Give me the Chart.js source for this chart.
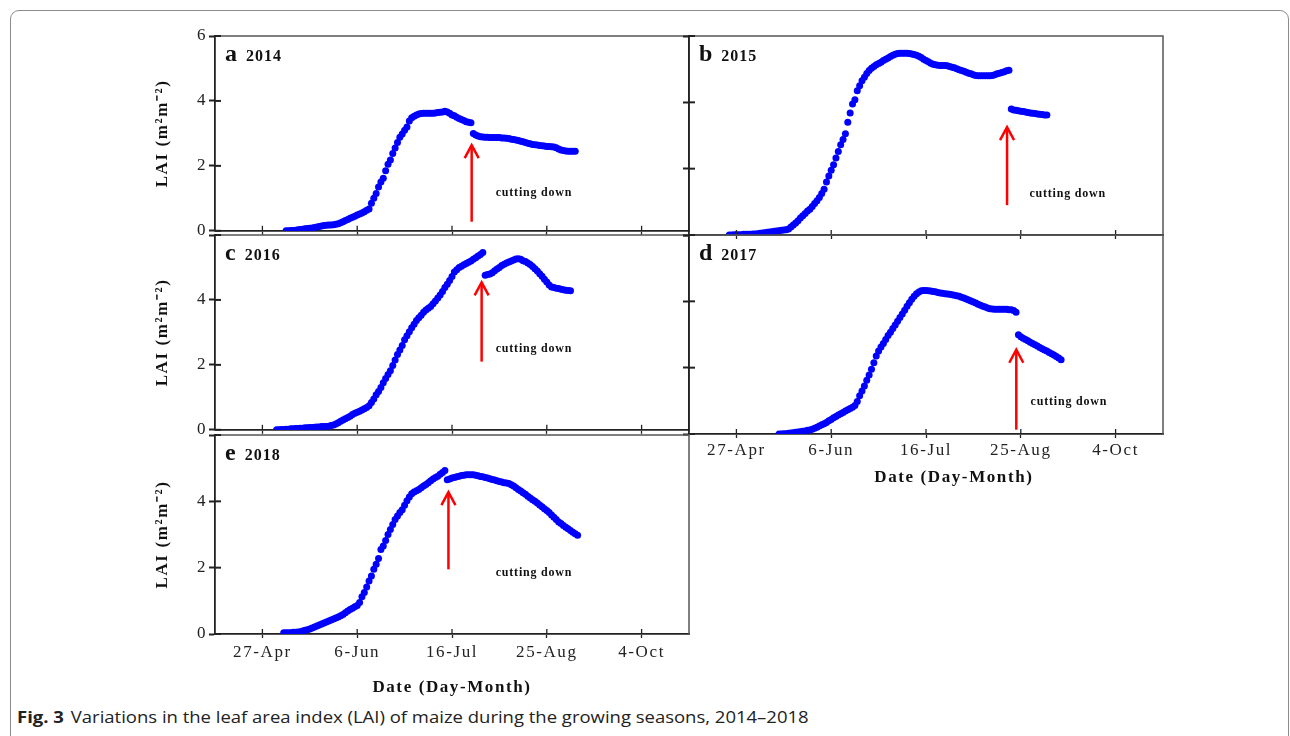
<!DOCTYPE html>
<html><head><meta charset="utf-8">
<script src="https://cdn.jsdelivr.net/npm/chart.js@4.4.1/dist/chart.umd.min.js"></script>
<style>
html,body{margin:0;padding:0;background:#fff;width:1290px;height:736px;overflow:hidden;}
#frame{position:absolute;left:10px;top:10px;width:1279px;height:745px;border:1.5px solid #8c8c8c;border-radius:9px;box-sizing:border-box;}
canvas{position:absolute;}
#caption{position:absolute;left:17px;top:706px;font-family:'Open Sans',sans-serif;font-size:16px;color:#222;white-space:nowrap;transform:scaleX(1.155);transform-origin:0 50%;}
#caption b{font-weight:700;margin-right:6px;}
</style></head><body>
<div id="frame"></div>
<canvas id="pa"></canvas>
<canvas id="pb"></canvas>
<canvas id="pc"></canvas>
<canvas id="pd"></canvas>
<canvas id="pe"></canvas>
<div id="caption"><b>Fig. 3</b>Variations in the leaf area index (LAI) of maize during the growing seasons, 2014–2018</div>
<script>
// ---- axis definitions ----
const xTickDays = [117, 157, 197, 237, 277];
const xTickLabels = ['27-Apr', '6-Jun', '16-Jul', '25-Aug', '4-Oct'];
const xMinDay = 97, xMaxDay = 297;
const yMinLAI = 0, yMaxLAI = 6, yStepLAI = 2;
const panelLetters = ['a', 'b', 'c', 'd', 'e'];
const panelYears = ['2014', '2015', '2016', '2017', '2018'];
const xTitle = 'Date (Day-Month)';
const yTitle = 'LAI (m\u00B2m\u207B\u00B2)';
const noteText = 'cutting down';

// ---- LAI series (daily values, day-of-year start) ----
const lai2014BeforeStart = 127;
const lai2014Before = [0.00,0.00,0.01,0.01,0.02,0.03,0.04,0.05,0.06,0.07,
 0.08,0.09,0.10,0.12,0.13,0.15,0.16,0.17,0.18,0.18,
 0.19,0.20,0.22,0.25,0.28,0.32,0.35,0.39,0.42,0.45,
 0.49,0.52,0.55,0.59,0.63,0.67,0.85,1.00,1.15,1.35,
 1.50,1.62,1.85,2.05,2.18,2.38,2.55,2.72,2.88,2.98,
 3.10,3.20,3.38,3.48,3.53,3.57,3.60,3.61,3.62,3.62,
 3.62,3.62,3.62,3.63,3.64,3.65,3.66,3.68,3.66,3.62,
 3.57,3.54,3.50,3.46,3.43,3.40,3.36,3.34,3.33];
const lai2014AfterStart = 206;
const lai2014After = [3.00,2.95,2.92,2.90,2.89,2.88,2.88,2.87,2.87,2.87,
 2.87,2.87,2.86,2.86,2.85,2.84,2.82,2.81,2.80,2.78,
 2.76,2.74,2.72,2.70,2.68,2.66,2.65,2.64,2.63,2.62,
 2.61,2.60,2.60,2.59,2.58,2.56,2.52,2.49,2.47,2.46,
 2.45,2.45,2.45,2.45];

const lai2015BeforeStart = 114;
const lai2015Before = [0.00,0.00,0.01,0.01,0.01,0.01,0.02,0.02,0.02,0.02,
 0.03,0.03,0.04,0.05,0.06,0.07,0.08,0.09,0.10,0.11,
 0.12,0.13,0.14,0.15,0.16,0.18,0.24,0.30,0.36,0.43,
 0.51,0.58,0.65,0.72,0.78,0.86,0.95,1.03,1.13,1.25,
 1.38,1.60,1.78,1.95,2.12,2.32,2.52,2.72,2.88,3.05,
 3.40,3.68,3.95,4.08,4.35,4.50,4.65,4.76,4.87,4.96,
 5.03,5.08,5.13,5.17,5.21,5.26,5.30,5.34,5.38,5.42,
 5.45,5.47,5.48,5.48,5.48,5.48,5.47,5.46,5.44,5.42,
 5.39,5.35,5.30,5.26,5.22,5.18,5.15,5.13,5.12,5.11,
 5.11,5.11,5.10,5.08,5.06,5.04,5.01,4.98,4.96,4.94,
 4.91,4.88,4.86,4.83,4.81,4.80,4.80,4.80,4.80,4.80,
 4.80,4.81,4.83,4.86,4.88,4.90,4.92,4.95,4.97];
const lai2015AfterStart = 233;
const lai2015After = [3.80,3.77,3.76,3.75,3.73,3.72,3.71,3.69,3.68,3.67,3.66,3.65,3.64,3.63,3.62,3.62];

const lai2016BeforeStart = 123;
const lai2016Before = [0.00,0.00,0.01,0.01,0.02,0.02,0.03,0.03,0.04,0.04,
 0.05,0.05,0.06,0.06,0.07,0.07,0.08,0.09,0.09,0.10,
 0.10,0.10,0.11,0.13,0.15,0.18,0.22,0.26,0.30,0.34,
 0.38,0.42,0.47,0.51,0.54,0.57,0.61,0.65,0.69,0.74,
 0.84,0.95,1.08,1.18,1.30,1.45,1.58,1.70,1.82,1.98,
 2.15,2.32,2.46,2.60,2.77,2.90,3.02,3.14,3.25,3.37,
 3.45,3.53,3.62,3.69,3.74,3.80,3.88,3.97,4.06,4.15,
 4.26,4.38,4.48,4.60,4.72,4.86,4.93,5.00,5.04,5.08,
 5.12,5.16,5.20,5.25,5.30,5.35,5.40,5.46];
const lai2016AfterStart = 211;
const lai2016After = [4.76,4.78,4.80,4.84,4.90,4.95,5.00,5.06,5.10,5.14,
 5.17,5.20,5.23,5.26,5.27,5.25,5.21,5.18,5.14,5.09,
 5.03,4.96,4.89,4.81,4.73,4.64,4.55,4.46,4.40,4.38,
 4.36,4.35,4.33,4.31,4.30,4.29,4.28];

const lai2017BeforeStart = 135;
const lai2017Before = [0.00,0.00,0.01,0.01,0.02,0.03,0.04,0.05,0.06,0.07,
 0.08,0.09,0.11,0.12,0.14,0.17,0.20,0.24,0.28,0.31,
 0.35,0.40,0.44,0.49,0.53,0.57,0.61,0.65,0.69,0.73,
 0.77,0.81,0.86,0.98,1.15,1.30,1.45,1.62,1.78,1.95,
 2.15,2.35,2.50,2.62,2.73,2.85,2.97,3.07,3.18,3.29,
 3.40,3.51,3.62,3.73,3.85,3.96,4.06,4.15,4.23,4.28,
 4.32,4.33,4.33,4.32,4.31,4.30,4.29,4.27,4.25,4.24,
 4.23,4.22,4.21,4.20,4.18,4.17,4.15,4.12,4.10,4.07,
 4.04,4.01,3.98,3.95,3.91,3.88,3.85,3.83,3.80,3.78,
 3.77,3.76,3.76,3.76,3.76,3.76,3.76,3.75,3.75,3.72,
 3.67];
const lai2017AfterStart = 236;
const lai2017After = [2.99,2.93,2.89,2.85,2.81,2.77,2.73,2.69,2.65,2.61,2.57,2.53,2.50,2.46,2.42,2.38,2.34,2.29,2.24];

const lai2018BeforeStart = 126;
const lai2018Before = [0.04,0.04,0.04,0.04,0.05,0.05,0.06,0.07,0.09,0.11,
 0.13,0.15,0.18,0.21,0.24,0.27,0.30,0.33,0.36,0.39,
 0.42,0.45,0.48,0.51,0.55,0.59,0.64,0.69,0.74,0.78,
 0.82,0.86,0.95,1.12,1.25,1.42,1.60,1.75,1.95,2.10,
 2.28,2.55,2.65,2.82,3.00,3.15,3.30,3.45,3.56,3.66,
 3.75,3.88,4.02,4.13,4.23,4.28,4.32,4.36,4.41,4.46,
 4.51,4.56,4.62,4.67,4.72,4.76,4.82,4.87,4.93];
const lai2018AfterStart = 195;
const lai2018After = [4.65,4.67,4.70,4.72,4.74,4.76,4.78,4.79,4.80,4.80,
 4.80,4.80,4.79,4.77,4.75,4.74,4.72,4.70,4.68,4.66,
 4.64,4.62,4.60,4.58,4.56,4.55,4.54,4.50,4.46,4.41,
 4.36,4.31,4.26,4.21,4.15,4.10,4.05,4.00,3.95,3.89,
 3.84,3.78,3.72,3.66,3.59,3.52,3.45,3.38,3.33,3.27,
 3.22,3.17,3.12,3.07,3.02,2.98];

// ---- "cutting down" annotations (day-of-year, LAI) ----
const arrowDay  = [205.3, 231.2, 209.5, 235.1, 195.5];
const arrowBase = [0.28, 0.90, 2.10, 0.13, 1.95];
const arrowTip  = [2.64, 3.25, 4.54, 2.54, 4.28];
const noteDay   = [231.6, 256.8, 231.6, 257.3, 231.6];
const noteLAI   = [1.17, 1.24, 2.48, 0.96, 1.85];

const seriesBefore = [[lai2014BeforeStart, lai2014Before],[lai2015BeforeStart, lai2015Before],[lai2016BeforeStart, lai2016Before],[lai2017BeforeStart, lai2017Before],[lai2018BeforeStart, lai2018Before]];
const seriesAfter = [[lai2014AfterStart, lai2014After],[lai2015AfterStart, lai2015After],[lai2016AfterStart, lai2016After],[lai2017AfterStart, lai2017After],[lai2018AfterStart, lai2018After]];

// ---- layout (separate from data) ----
const SERIF = "'Liberation Serif', 'Times New Roman', serif";
const PLOT_W = 474, PLOT_H = 199, PAD_TOP = 16, PAD_RIGHT = 6;
const layoutCfg = [
  {id:'pa', plotLeft:215, plotTop:36,  yW:75, xH:8,  yLabels:true,  hideTop:false, xLabels:false, xPad:4, titleText:''},
  {id:'pb', plotLeft:689, plotTop:36,  yW:8,  xH:8,  yLabels:false, hideTop:false, xLabels:false, xPad:4, titleText:''},
  {id:'pc', plotLeft:215, plotTop:235, yW:75, xH:8,  yLabels:true,  hideTop:true,  xLabels:false, xPad:4, titleText:''},
  {id:'pd', plotLeft:689, plotTop:235, yW:8,  xH:60, yLabels:false, hideTop:true,  xLabels:true,  xPad:2, titleText:'\u2003\u2003\u2003' + xTitle},
  {id:'pe', plotLeft:215, plotTop:435, yW:75, xH:70, yLabels:true,  hideTop:true,  xLabels:true,  xPad:4, titleText:xTitle}
];

function toPoints(pair){ const start = pair[0]; return pair[1].map((v, i) => ({x: start + i, y: v})); }

const decorPlugin = {
  id: 'decor',
  beforeDraw(chart){ chart.ctx.letterSpacing = '1.6px'; },
  afterDraw(chart, args, opts){
    const k = opts.idx;
    const ctx = chart.ctx;
    const ca = chart.chartArea;
    const xs = chart.scales.x, ys = chart.scales.y;
    ctx.save();
    // top & right frame
    ctx.strokeStyle = '#555'; ctx.lineWidth = 1.5;
    ctx.beginPath(); ctx.moveTo(ca.left, ca.top); ctx.lineTo(ca.right, ca.top); ctx.lineTo(ca.right, ca.bottom); ctx.stroke();
    // inward halves of tick marks
    ctx.strokeStyle = '#222';
    ctx.lineWidth = 1.3;
    xs.ticks.forEach(t => { const px = xs.getPixelForValue(t.value); ctx.beginPath(); ctx.moveTo(px, ca.bottom); ctx.lineTo(px, ca.bottom - 5); ctx.stroke(); });
    ctx.lineWidth = 2;
    ys.ticks.forEach(t => { const py = ys.getPixelForValue(t.value); ctx.beginPath(); ctx.moveTo(ca.left, py); ctx.lineTo(ca.left + 6, py); ctx.stroke(); });
    // arrow
    const ax = xs.getPixelForValue(arrowDay[k]);
    const ay0 = ys.getPixelForValue(arrowBase[k]);
    const ay1 = ys.getPixelForValue(arrowTip[k]);
    ctx.strokeStyle = '#ff0000'; ctx.lineWidth = 2.5; ctx.lineCap = 'butt';
    ctx.beginPath(); ctx.moveTo(ax, ay0); ctx.lineTo(ax, ay1 + 1); ctx.stroke();
    ctx.beginPath(); ctx.moveTo(ax - 7, ay1 + 13); ctx.lineTo(ax, ay1); ctx.lineTo(ax + 7, ay1 + 13); ctx.stroke();
    // note text
    ctx.fillStyle = '#111';
    ctx.letterSpacing = '0.8px';
    ctx.font = "bold 12px " + SERIF;
    ctx.textAlign = 'center'; ctx.textBaseline = 'middle';
    ctx.fillText(noteText, xs.getPixelForValue(noteDay[k]), ys.getPixelForValue(noteLAI[k]));
    // panel label
    ctx.textAlign = 'left'; ctx.textBaseline = 'alphabetic';
    ctx.letterSpacing = '0px';
    ctx.font = "bold 24px " + SERIF;
    const lx = ca.left + 10, ly = ca.top + 25;
    ctx.fillText(panelLetters[k], lx, ly);
    const w = ctx.measureText(panelLetters[k]).width;
    ctx.letterSpacing = '1px';
    ctx.font = "bold 16px " + SERIF;
    ctx.fillText(panelYears[k], lx + w + 9, ly);
    ctx.restore();
  }
};

layoutCfg.forEach((p, k) => {
  const cv = document.getElementById(p.id);
  const w = p.yW + PLOT_W + PAD_RIGHT;
  const h = PAD_TOP + PLOT_H + p.xH;
  cv.width = w; cv.height = h;
  cv.style.width = w + 'px'; cv.style.height = h + 'px';
  cv.style.left = (p.plotLeft - p.yW) + 'px';
  cv.style.top = (p.plotTop - PAD_TOP) + 'px';
  new Chart(cv, {
    type: 'scatter',
    data: { datasets: [
      { data: toPoints(seriesBefore[k]), backgroundColor: '#0000ff', borderWidth: 0, pointRadius: 3.5, pointHoverRadius: 3.5 },
      { data: toPoints(seriesAfter[k]),  backgroundColor: '#0000ff', borderWidth: 0, pointRadius: 3.5, pointHoverRadius: 3.5 }
    ]},
    options: {
      responsive: false, animation: false, devicePixelRatio: 1,
      events: [],
      layout: { padding: { top: PAD_TOP, right: PAD_RIGHT, left: 0, bottom: 0 } },
      plugins: { legend: { display: false }, tooltip: { enabled: false }, decor: { idx: k } },
      scales: {
        x: {
          type: 'linear', min: xMinDay, max: xMaxDay,
          afterBuildTicks: s => { s.ticks = xTickDays.map(v => ({ value: v })); },
          afterFit: s => { s.height = p.xH; },
          grid: { drawOnChartArea: false, drawTicks: true, tickLength: 4, tickWidth: 1.3, tickColor: '#222' },
          border: { display: true, color: '#222', width: 1.8 },
          ticks: { display: p.xLabels, autoSkip: false, maxRotation: 0, padding: p.xPad, color: '#222',
                   font: { family: SERIF, size: 17 },
                   callback: (v) => { const i = xTickDays.indexOf(v); return i >= 0 ? xTickLabels[i] : ''; } },
          title: { display: p.xLabels, text: p.titleText, color: '#111', font: { family: SERIF, size: 17, weight: 'bold' }, padding: { top: 0, bottom: 6 } }
        },
        y: {
          type: 'linear', min: yMinLAI, max: yMaxLAI,
          afterFit: s => { s.width = p.yW; },
          grid: { drawOnChartArea: false, drawTicks: true, tickLength: 6, tickWidth: 2, tickColor: '#222' },
          border: { display: true, color: '#222', width: 1.8 },
          ticks: { display: p.yLabels, stepSize: yStepLAI, padding: 2, color: '#222',
                   font: { family: SERIF, size: 17 },
                   callback: (v) => (p.hideTop && v === yMaxLAI) ? '' : String(v) },
          title: { display: p.yLabels, text: yTitle, color: '#111', font: { family: SERIF, size: 17, weight: 'bold' }, padding: { top: 12, bottom: 0 } }
        }
      }
    },
    plugins: [decorPlugin]
  });
});
</script>
</body></html>
